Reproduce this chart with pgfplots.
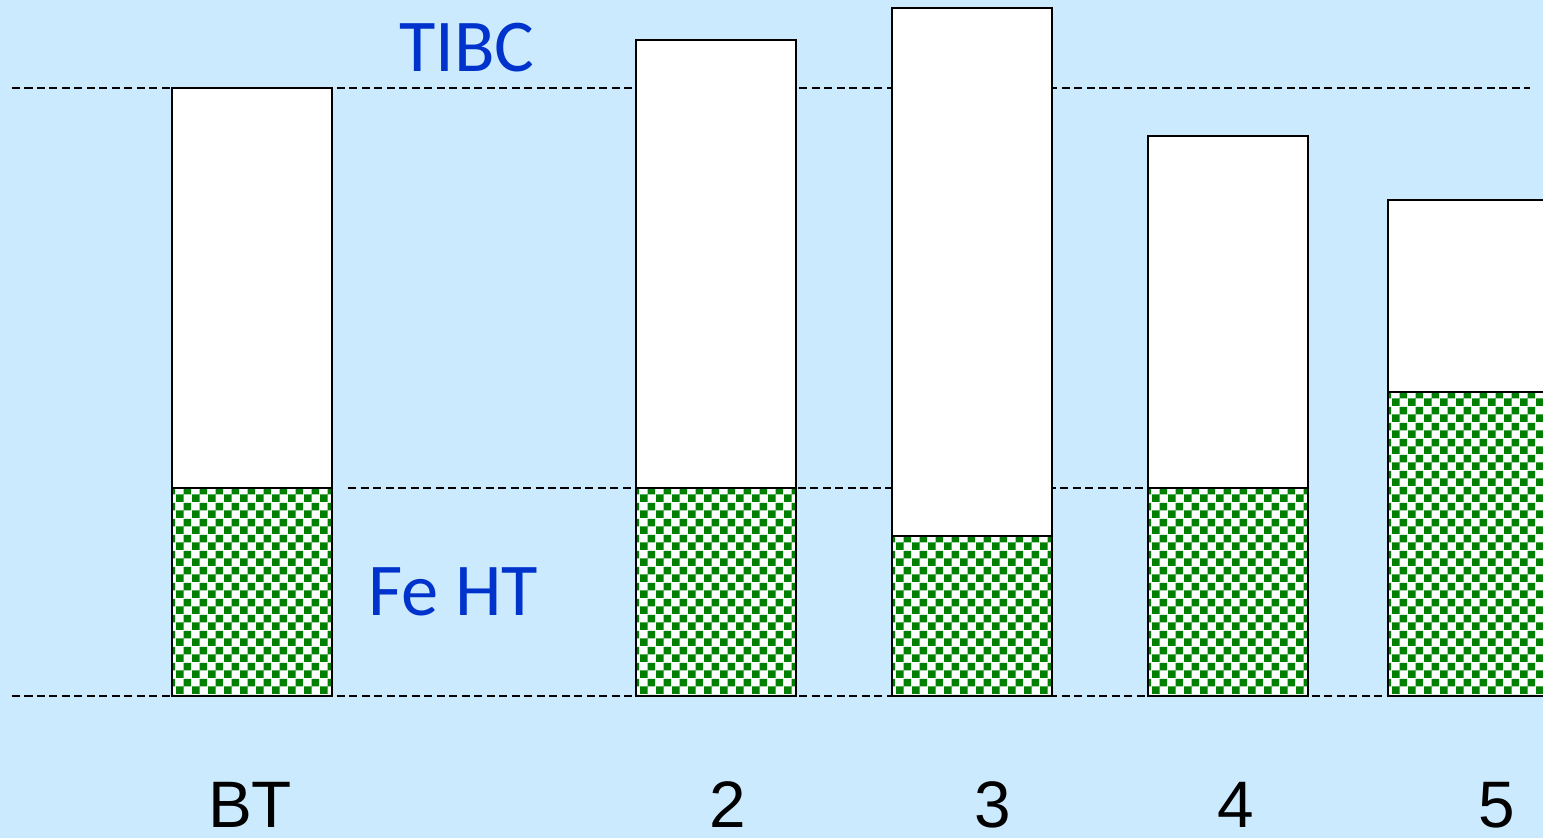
\documentclass[border=0pt]{standalone}
\usepackage{pgfplots}
\pgfplotsset{compat=1.18}
\usepackage{fontspec}
\setmainfont{Liberation Sans}
\newfontfamily\calibri{Carlito}
\usetikzlibrary{patterns}
\definecolor{bgblue}{HTML}{CCEAFD}
\definecolor{chkgreen}{HTML}{008000}
\definecolor{txtblue}{HTML}{0033CC}
\pgfdeclarepatternformonly{mycheck}{\pgfpointorigin}{\pgfpoint{0.16cm}{0.16cm}}{\pgfpoint{0.16cm}{0.16cm}}{%
  \pgfpathrectangle{\pgfpointorigin}{\pgfpoint{0.08cm}{0.08cm}}%
  \pgfpathrectangle{\pgfpoint{0.08cm}{0.08cm}}{\pgfpoint{0.08cm}{0.08cm}}%
  \pgfusepath{fill}}
\pgfplotstableread{
x    fe  total
252  13  38
716  13  41
972  10  43
1228 13  35
1468 19  31
}\datatable
\begin{document}
\begin{tikzpicture}
\begin{axis}[
  scale only axis,
  width=15.43cm, height=8.38cm,
  xmin=0, xmax=1543, ymin=-8.875, ymax=43.5,
  axis background/.style={fill=bgblue},
  axis line style={draw=none},
  major tick length=0pt,
  ytick=\empty,
  xtick={250,728,993,1236,1497},
  xticklabels={BT,2,3,4,5},
  xticklabel style={anchor=center, inner sep=0pt, yshift=0.33cm, font=\fontsize{18.7}{20}\selectfont, text=black},
  clip=true,
]
\addplot[draw=black, line width=0.5pt, dash pattern=on 0.08cm off 0.045cm, no marks] coordinates {(12,38) (1530,38)};
\addplot[draw=black, line width=0.5pt, dash pattern=on 0.08cm off 0.045cm, no marks] coordinates {(348,13) (1148,13)};
\addplot[draw=black, line width=0.5pt, dash pattern=on 0.08cm off 0.045cm, no marks] coordinates {(12,0) (1543,0)};
\addplot[ybar, bar width=160, bar shift=0pt, fill=white, draw=black, line width=0.6pt] table[x=x, y=total] {\datatable};
\addplot[ybar, bar width=160, bar shift=0pt, fill=white, draw=black, line width=0.6pt, postaction={pattern=mycheck, pattern color=chkgreen}] table[x=x, y=fe] {\datatable};
\node[text=txtblue, font=\calibri\fontsize{21.2}{24}\selectfont, anchor=center] at (axis cs:467,40.5) {TIBC};
\node[text=txtblue, font=\calibri\fontsize{21.2}{24}\selectfont, anchor=center] at (axis cs:453,6.5) {Fe HT};
\end{axis}
\pgfresetboundingbox
\path (current axis.south west) rectangle (current axis.north east);
\end{tikzpicture}
\end{document}
